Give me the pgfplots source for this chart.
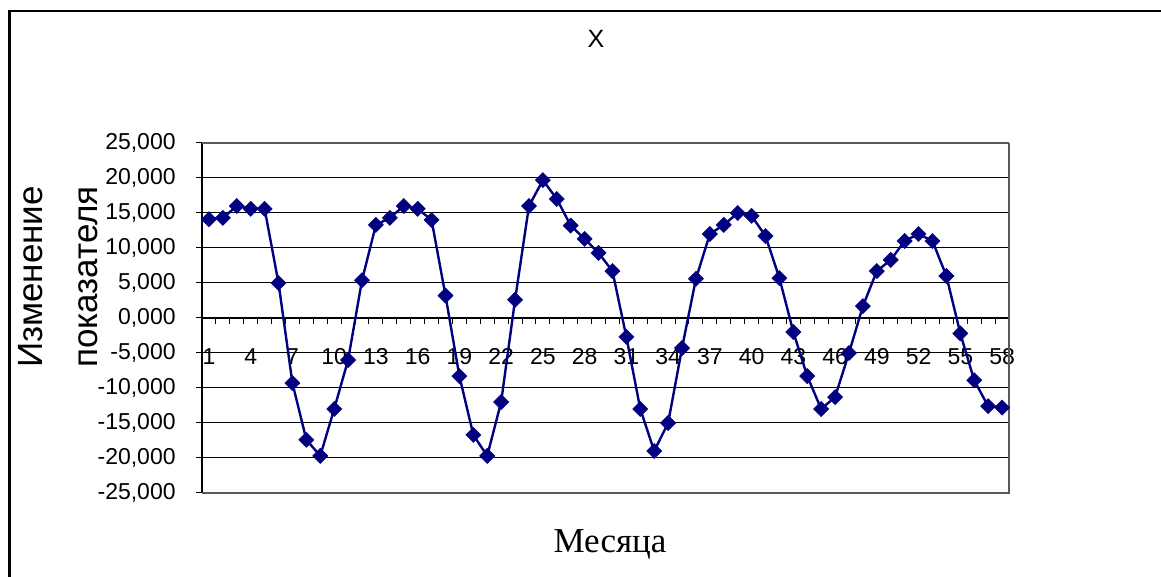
\documentclass[border=0pt]{standalone}
\usepackage{fontspec}
\setmainfont{Liberation Sans}
\newfontfamily\seriffont{Liberation Serif}
\usepackage{pgfplots}
\pgfplotsset{compat=1.18}
\definecolor{navyline}{HTML}{000080}
\begin{document}
\begin{tikzpicture}
\path[use as bounding box] (0pt,0pt) rectangle (580.5pt,288.5pt);
\fill[white] (0pt,0pt) rectangle (580.5pt,288.5pt);
\draw[black, line width=1.3pt] (4.6pt,-5pt) -- (4.6pt,283pt) -- (600pt,283pt);
\begin{axis}[
  at={(101pt,42pt)}, anchor=south west,
  scale only axis, width=403.5pt, height=175pt,
  xmin=0.5, xmax=58.5, ymin=-25, ymax=25,
  axis x line*=middle, axis y line*=left,
  x axis line style={black, line width=0.6pt},
  y axis line style={black, line width=0.9pt},
  tick align=outside,
  major tick length=3pt,
  tick style={black, line width=0.5pt},
  ytick={-25,-20,...,25},
  yticklabels={{-25,000},{-20,000},{-15,000},{-10,000},{-5,000},{0,000},{5,000},{10,000},{15,000},{20,000},{25,000}},
  ymajorgrids,
  grid style={black, line width=0.5pt},
  xtick={0.5,1.5,...,58.5},
  xticklabels={},
  extra x ticks={1,4,...,58},
  extra x tick labels={1,4,7,10,13,16,19,22,25,28,31,34,37,40,43,46,49,52,55,58},
  extra x tick style={major tick length=0pt, xticklabel style={anchor=north, inner sep=0pt, yshift=-15pt}},
  ticklabel style={font=\fontsize{11.5}{13}\selectfont},
  yticklabel style={anchor=east, inner sep=0pt, xshift=-10pt},
  clip=false,
]
\draw[gray!70!black, line width=0.8pt] (rel axis cs:0,1) -- (rel axis cs:1,1);
\draw[gray!70!black, line width=1.3pt] (rel axis cs:1,1) -- (rel axis cs:1,0) -- (rel axis cs:0,0);
\addplot[navyline, line width=1.2pt, mark=square*, mark size=2.7pt, mark options={rotate=45, fill=navyline, draw=navyline, line width=0.2pt}]
coordinates {
(1,14.1) (2,14.3) (3,16.0) (4,15.6) (5,15.6) (6,5.0) (7,-9.3) (8,-17.4) (9,-19.7) (10,-13.0)
(11,-6.0) (12,5.4) (13,13.3) (14,14.3) (15,16.0) (16,15.6) (17,14.0) (18,3.2) (19,-8.3) (20,-16.7)
(21,-19.7) (22,-12.0) (23,2.6) (24,16.0) (25,19.7) (26,17.0) (27,13.2) (28,11.3) (29,9.3) (30,6.7)
(31,-2.7) (32,-13.0) (33,-19.0) (34,-15.0) (35,-4.3) (36,5.6) (37,12.0) (38,13.3) (39,15.0) (40,14.6)
(41,11.7) (42,5.7) (43,-2.0) (44,-8.3) (45,-13.0) (46,-11.3) (47,-5.0) (48,1.7) (49,6.7) (50,8.3)
(51,11.0) (52,12.0) (53,11.0) (54,6.0) (55,-2.2) (56,-8.9) (57,-12.6) (58,-12.8)
};
\end{axis}
\node[anchor=base, font=\fontsize{12.5}{14}\selectfont] at (298pt,264.5pt) {X};
\node[anchor=base, font=\seriffont\fontsize{17.5}{20}\selectfont] at (305pt,12pt) {Месяца};
\node[anchor=base, rotate=90, font=\fontsize{17.5}{20}\selectfont] at (21pt,150pt) {Изменение};
\node[anchor=base, rotate=90, font=\fontsize{17.5}{20}\selectfont] at (48.5pt,150pt) {показателя};
\end{tikzpicture}
\end{document}
